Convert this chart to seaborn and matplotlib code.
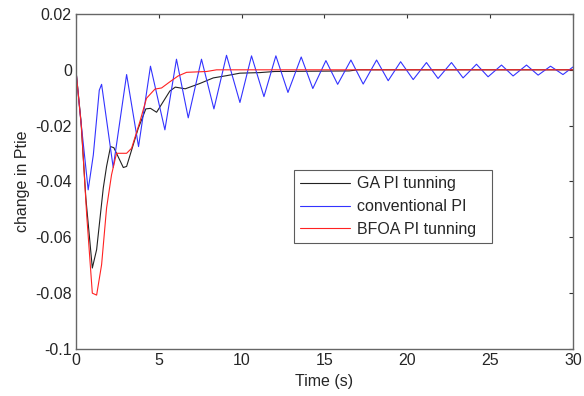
import numpy as np
import pandas as pd
import matplotlib
matplotlib.use("Agg")
import matplotlib.pyplot as plt
import seaborn as sns
from matplotlib.ticker import FuncFormatter

sns.set_style("white")
plt.rcParams["font.family"] = ["Liberation Sans", "DejaVu Sans"]
plt.rcParams["axes.unicode_minus"] = False

# GA PI tunning (black)
ga_t = [0, 0.3, 0.6, 0.99, 1.25, 1.65, 1.85, 2.09, 2.29, 2.86, 3.06, 3.76, 4.22,
        4.5, 4.87, 5.67, 6.0, 6.6, 7.48, 8.29, 9.09, 9.9, 11.1, 12.0, 16.5, 17.0, 30]
ga_y = [0, -0.018, -0.046, -0.071, -0.0644, -0.0424, -0.0346, -0.0275, -0.0279,
        -0.035, -0.0346, -0.021, -0.014, -0.0138, -0.0152, -0.0076, -0.0062,
        -0.0068, -0.0049, -0.0029, -0.0021, -0.0012, -0.001, -0.0006, -0.0004, 0, 0]

# conventional PI (blue)
conv_t = [0, 0.24, 0.74, 1.05, 1.41, 1.55, 2.25, 3.06, 3.78, 4.5, 5.37, 6.07, 6.78,
          7.58, 8.33, 9.09, 9.9, 10.6, 11.35, 12.07, 12.8, 13.6, 14.3, 15.09, 15.8,
          16.6, 17.34, 18.15, 18.85, 19.6, 20.36, 21.16, 21.86, 22.67, 23.37, 24.18,
          24.88, 25.69, 26.39, 27.2, 27.9, 28.65, 29.4, 30]
conv_y = [0, -0.015, -0.043, -0.0305, -0.0073, -0.0052, -0.035, -0.0017, -0.0275,
          0.0013, -0.0215, 0.0038, -0.0172, 0.0038, -0.014, 0.0052, -0.0117, 0.005,
          -0.0096, 0.005, -0.0081, 0.0046, -0.0067, 0.0033, -0.0052, 0.0035, -0.0051,
          0.0035, -0.0039, 0.0029, -0.0035, 0.0026, -0.0031, 0.0026, -0.0029, 0.002,
          -0.0025, 0.0017, -0.0022, 0.0017, -0.0019, 0.0013, -0.0017, 0.001]

# BFOA PI tunning (red)
bfoa_t = [0, 0.34, 0.65, 0.99, 1.25, 1.55, 1.85, 2.15, 2.45, 3.06, 3.36, 3.86, 4.26,
          4.77, 5.17, 5.67, 6.17, 6.68, 7.89, 8.49, 30]
bfoa_y = [0, -0.021, -0.052, -0.080, -0.0807, -0.0698, -0.0495, -0.0376, -0.0299,
          -0.0299, -0.0281, -0.0186, -0.0102, -0.0069, -0.0065, -0.0043, -0.0022,
          -0.0009, -0.0006, 0, 0]

labels = ["GA PI tunning", "conventional PI", "BFOA PI tunning"]
colors = ["#222222", "#3333ff", "#ff2222"]

fig = plt.figure(figsize=(5.84, 3.96), dpi=100)
ax = fig.add_axes([0.130, 0.1187, 0.851, 0.846])

series = [(ga_t, ga_y), (conv_t, conv_y), (bfoa_t, bfoa_y)]
for (t, y), lab, col in zip(series, labels, colors):
    df = pd.DataFrame({"t": t, "y": y})
    sns.lineplot(data=df, x="t", y="y", ax=ax, color=col, lw=0.8, label=lab,
                 sort=False, estimator=None)

ax.set_xlim(0, 30)
ax.set_ylim(-0.1, 0.02)
ax.set_xticks(np.arange(0, 31, 5))
ax.set_yticks([0.02, 0, -0.02, -0.04, -0.06, -0.08, -0.1])
ax.yaxis.set_major_formatter(FuncFormatter(lambda v, p: "%g" % round(v, 4)))
ax.tick_params(direction="in", length=3, width=0.8, top=True, right=True,
               labelsize=11.5, pad=3, color="0.2")
for s in ax.spines.values():
    s.set_color("0.4")
    s.set_linewidth(1.0)
ax.set_xlabel("Time (s)", fontsize=11.5, labelpad=4)
ax.set_ylabel("change in Ptie", fontsize=11.5, labelpad=4)

leg = ax.legend(loc="upper left", bbox_to_anchor=(0.4386, 0.316, 0.398, 0.218),
                mode="expand", frameon=True, fancybox=False, fontsize=11.5,
                handlelength=3.1, handletextpad=0.45, borderaxespad=0,
                labelspacing=0.48)
leg.get_frame().set_edgecolor("0.2")
leg.get_frame().set_linewidth(0.8)

fig.savefig("out.png", dpi=100)
